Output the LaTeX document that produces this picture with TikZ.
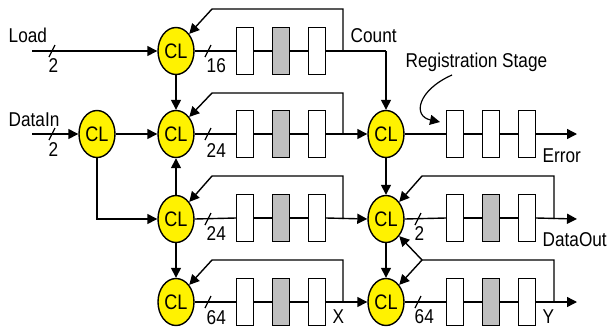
\documentclass[tikz,border=0pt]{standalone}
\usepackage{fontspec}
\setmainfont{Liberation Sans}[FakeStretch=0.86]
\usetikzlibrary{arrows.meta,shapes.geometric}
\begin{document}
\begin{tikzpicture}[x=1pt,y=-1pt,
  line width=1.4pt,
  every node/.style={font=\fontsize{20}{22}\selectfont},
  cl/.style={ellipse,draw,fill=yellow,minimum width=36pt,minimum height=47pt,inner sep=0pt,line width=1.4pt,font=\fontsize{21}{23}\selectfont},
  reg/.style={rectangle,draw,fill=white,minimum width=17pt,minimum height=47pt,inner sep=0pt,line width=1.4pt},
  greg/.style={reg,fill=black!25},
  arr/.style={-{Triangle[length=10pt,width=10pt]}},
  lab/.style={anchor=base west,inner sep=0pt},
  slash/.style={line width=1.2pt}]
\useasboundingbox (0,0) rectangle (607,330);
% CL nodes
\node[cl] (c0) at (97,134) {CL};
\node[cl] (a1) at (176,51) {CL};
\node[cl] (a2) at (176,134) {CL};
\node[cl] (a3) at (176,219) {CL};
\node[cl] (a4) at (176,302) {CL};
\node[cl] (b2) at (386,134) {CL};
\node[cl] (b3) at (386,219) {CL};
\node[cl] (b4) at (386,302) {CL};
% registers column 2
\foreach \r/\y in {1/51,2/134,3/218,4/302}{
  \node[reg] (p\r1) at (245,\y) {};
  \node[greg] (p\r2) at (281,\y) {};
  \node[reg] (p\r3) at (317,\y) {};
}
% registers column 3
\node[reg] (q21) at (455,134) {};
\node[reg] (q22) at (491,134) {};
\node[reg] (q23) at (527,134) {};
\foreach \r/\y in {3/218,4/302}{
  \node[reg] (q\r1) at (455,\y) {};
  \node[greg] (q\r2) at (491,\y) {};
  \node[reg] (q\r3) at (527,\y) {};
}
% coordinates
\coordinate (load) at (32,51);
\coordinate (din) at (32,134);
\coordinate (cnt) at (386,51);
\coordinate (f1) at (343,51);
\coordinate (f1t) at (343,9);
\coordinate (f1l) at (212,9);
\coordinate (f2) at (343,134);
\coordinate (f2t) at (343,93);
\coordinate (f2l) at (212,93);
\coordinate (f3) at (343,219);
\coordinate (f3t) at (343,176);
\coordinate (f3l) at (212,176);
\coordinate (f4) at (343,302);
\coordinate (f4t) at (343,260);
\coordinate (f4l) at (212,260);
\coordinate (err) at (577,134);
\coordinate (dout) at (577,219);
\coordinate (yout) at (577,302);
\coordinate (g3) at (554,219);
\coordinate (g3t) at (554,176);
\coordinate (g3l) at (422,176);
\coordinate (g4) at (554,302);
\coordinate (g4t) at (554,260);
\coordinate (g4l) at (422,260);
\coordinate (rs1) at (452,75);
\coordinate (rs2) at (440,122);
% inputs
\draw[arr] (load) -- (a1.west);
\draw[arr] (din) -- (c0.west);
\draw[arr] (c0.east) -- (a2.west);
\draw[arr] (c0.south) |- (a3.west);
% verticals column 2
\draw[arr] (a1.south) -- (a2.north);
\draw[arr] (a3.north) -- (a2.south);
\draw[arr] (a3.south) -- (a4.north);
% rows column 2
\foreach \r in {1,2,3,4}{
  \draw (a\r.east) -- (p\r1.west);
  \draw (p\r1.east) -- (p\r2.west);
  \draw (p\r2.east) -- (p\r3.west);
}
\draw (p13.east) -- (cnt);
\draw[arr] (cnt) -- (b2.north);
\draw[arr] (p23.east) -- (b2.west);
\draw[arr] (p33.east) -- (b3.west);
\draw[arr] (p43.east) -- (b4.west);
% feedback column 2
\draw[arr] (f1) -- (f1t) -- (f1l) -- (a1.north east);
\draw[arr] (f2) -- (f2t) -- (f2l) -- (a2.north east);
\draw[arr] (f3) -- (f3t) -- (f3l) -- (a3.north east);
\draw[arr] (f4) -- (f4t) -- (f4l) -- (a4.north east);
% column 3
\draw[arr] (b2.south) -- (b3.north);
\draw[arr] (b3.south) -- (b4.north);
\foreach \r in {2,3,4}{
  \draw (b\r.east) -- (q\r1.west);
  \draw (q\r1.east) -- (q\r2.west);
  \draw (q\r2.east) -- (q\r3.west);
}
\draw[arr] (q23.east) -- (err);
\draw[arr] (q33.east) -- (dout);
\draw[arr] (q43.east) -- (yout);
\draw[arr] (g3) -- (g3t) -- (g3l) -- (b3.north east);
\draw[arr] (g4) -- (g4t) -- (g4l) -- (b4.north east);
\draw[arr] (g4l) -- (b3.south east);
% registration stage arrow
\draw[arr,line width=1.2pt] (rs1) .. controls (418,90) and (412,116) .. (rs2);
% bus slashes
\draw[slash] (49,57) -- (55,45);
\draw[slash] (49,140) -- (55,128);
\draw[slash] (205,57) -- (211,45);
\draw[slash] (205,140) -- (211,128);
\draw[slash] (205,225) -- (211,213);
\draw[slash] (205,308) -- (211,296);
\draw[slash] (415,225) -- (421,213);
\draw[slash] (415,308) -- (421,296);
% labels
\node[lab] (tload) at (8,42) {Load};
\node[lab] (tdin) at (8,126) {DataIn};
\node[lab] (tcount) at (350,42) {Count};
\node[lab] (treg) at (405,67) {Registration Stage};
\node[lab] (terr) at (542,162) {Error};
\node[lab] (tdout) at (542,246) {DataOut};
\node[lab] (tx) at (332,323) {X};
\node[lab] (ty) at (542,323) {Y};
\node[lab] (n1) at (48,72) {2};
\node[lab] (n2) at (48,156) {2};
\node[lab] (n3) at (206,72) {16};
\node[lab] (n4) at (206,157) {24};
\node[lab] (n5) at (206,240) {24};
\node[lab] (n6) at (206,324) {64};
\node[lab] (n7) at (414,240) {2};
\node[lab] (n8) at (414,323) {64};
\end{tikzpicture}
\end{document}
